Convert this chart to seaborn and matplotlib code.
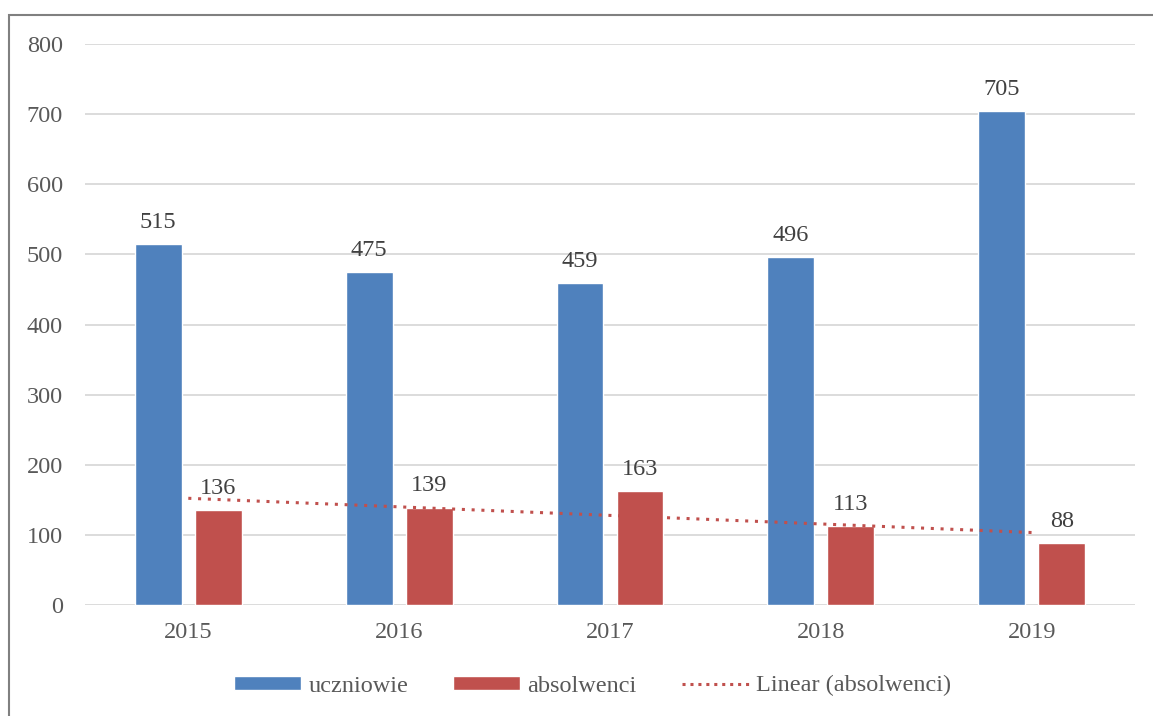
import numpy as np
import pandas as pd
import matplotlib
matplotlib.use("Agg")
import matplotlib.pyplot as plt
import seaborn as sns
from matplotlib.patches import Patch, Rectangle
from matplotlib.lines import Line2D

# --- data ---
years = ["2015", "2016", "2017", "2018", "2019"]
uczniowie = [515, 475, 459, 496, 705]
absolwenci = [136, 139, 163, 113, 88]

BLUE = "#4F81BD"
RED = "#C0504D"
TEXT = "#595959"
GRID = "#D9D9D9"

sns.set_theme(style="white")
plt.rcParams["font.family"] = ["Liberation Serif", "DejaVu Serif"]

df = pd.DataFrame({
    "rok": years * 2,
    "liczba": uczniowie + absolwenci,
    "seria": ["uczniowie"] * len(years) + ["absolwenci"] * len(years),
})

fig = plt.figure(figsize=(11.53, 7.16), dpi=100)
ax = fig.add_axes([0.0737, 0.155, 0.9107, 0.7835])

sns.barplot(data=df, x="rok", y="liczba", hue="seria", order=years,
            hue_order=["uczniowie", "absolwenci"], palette=[BLUE, RED],
            width=0.57, gap=0.22, saturation=1, ax=ax, legend=False)

# data labels
for container in ax.containers:
    ax.bar_label(container, padding=8, fontsize=17.5, color="#404040")

# linear trendline for absolwenci
xs = np.arange(len(years))
slope, intercept = np.polyfit(xs, absolwenci, 1)
ax.plot(xs, slope * xs + intercept, linestyle=(0, (1, 2.2)), color=RED,
        linewidth=2.2, zorder=4)

ax.set_ylim(0, 800)
ax.set_xlim(-0.49, 4.49)
ax.set_yticks(range(0, 801, 100))
ax.yaxis.grid(True, color=GRID, linewidth=1.3)
ax.set_axisbelow(True)
for s in ax.spines.values():
    s.set_visible(False)
ax.set_xlabel("")
ax.set_ylabel("")
ax.tick_params(axis="both", length=0, labelsize=17.5, labelcolor=TEXT)
ax.tick_params(axis="y", pad=16)
ax.tick_params(axis="x", pad=12)

handles = [
    Patch(facecolor=BLUE, label="uczniowie"),
    Patch(facecolor=RED, label="absolwenci"),
    Line2D([0], [0], color=RED, linestyle=(0, (1, 1.6)), linewidth=2.2,
           label="Linear (absolwenci)"),
]
leg = fig.legend(handles=handles, loc="center", bbox_to_anchor=(0.514, 0.042),
                 ncol=3, frameon=False, fontsize=17.5, handlelength=2.75,
                 handleheight=0.5, columnspacing=1.85, handletextpad=0.3)
for t in leg.get_texts():
    t.set_color(TEXT)

# outer chart border (Excel style)
fig.patches.append(Rectangle((9 / 1153, -0.05), 1.1, 1 - 15 / 716 + 0.05,
                             transform=fig.transFigure, fill=False,
                             edgecolor="#808080", linewidth=1.5))

fig.savefig("out.png", dpi=100)
